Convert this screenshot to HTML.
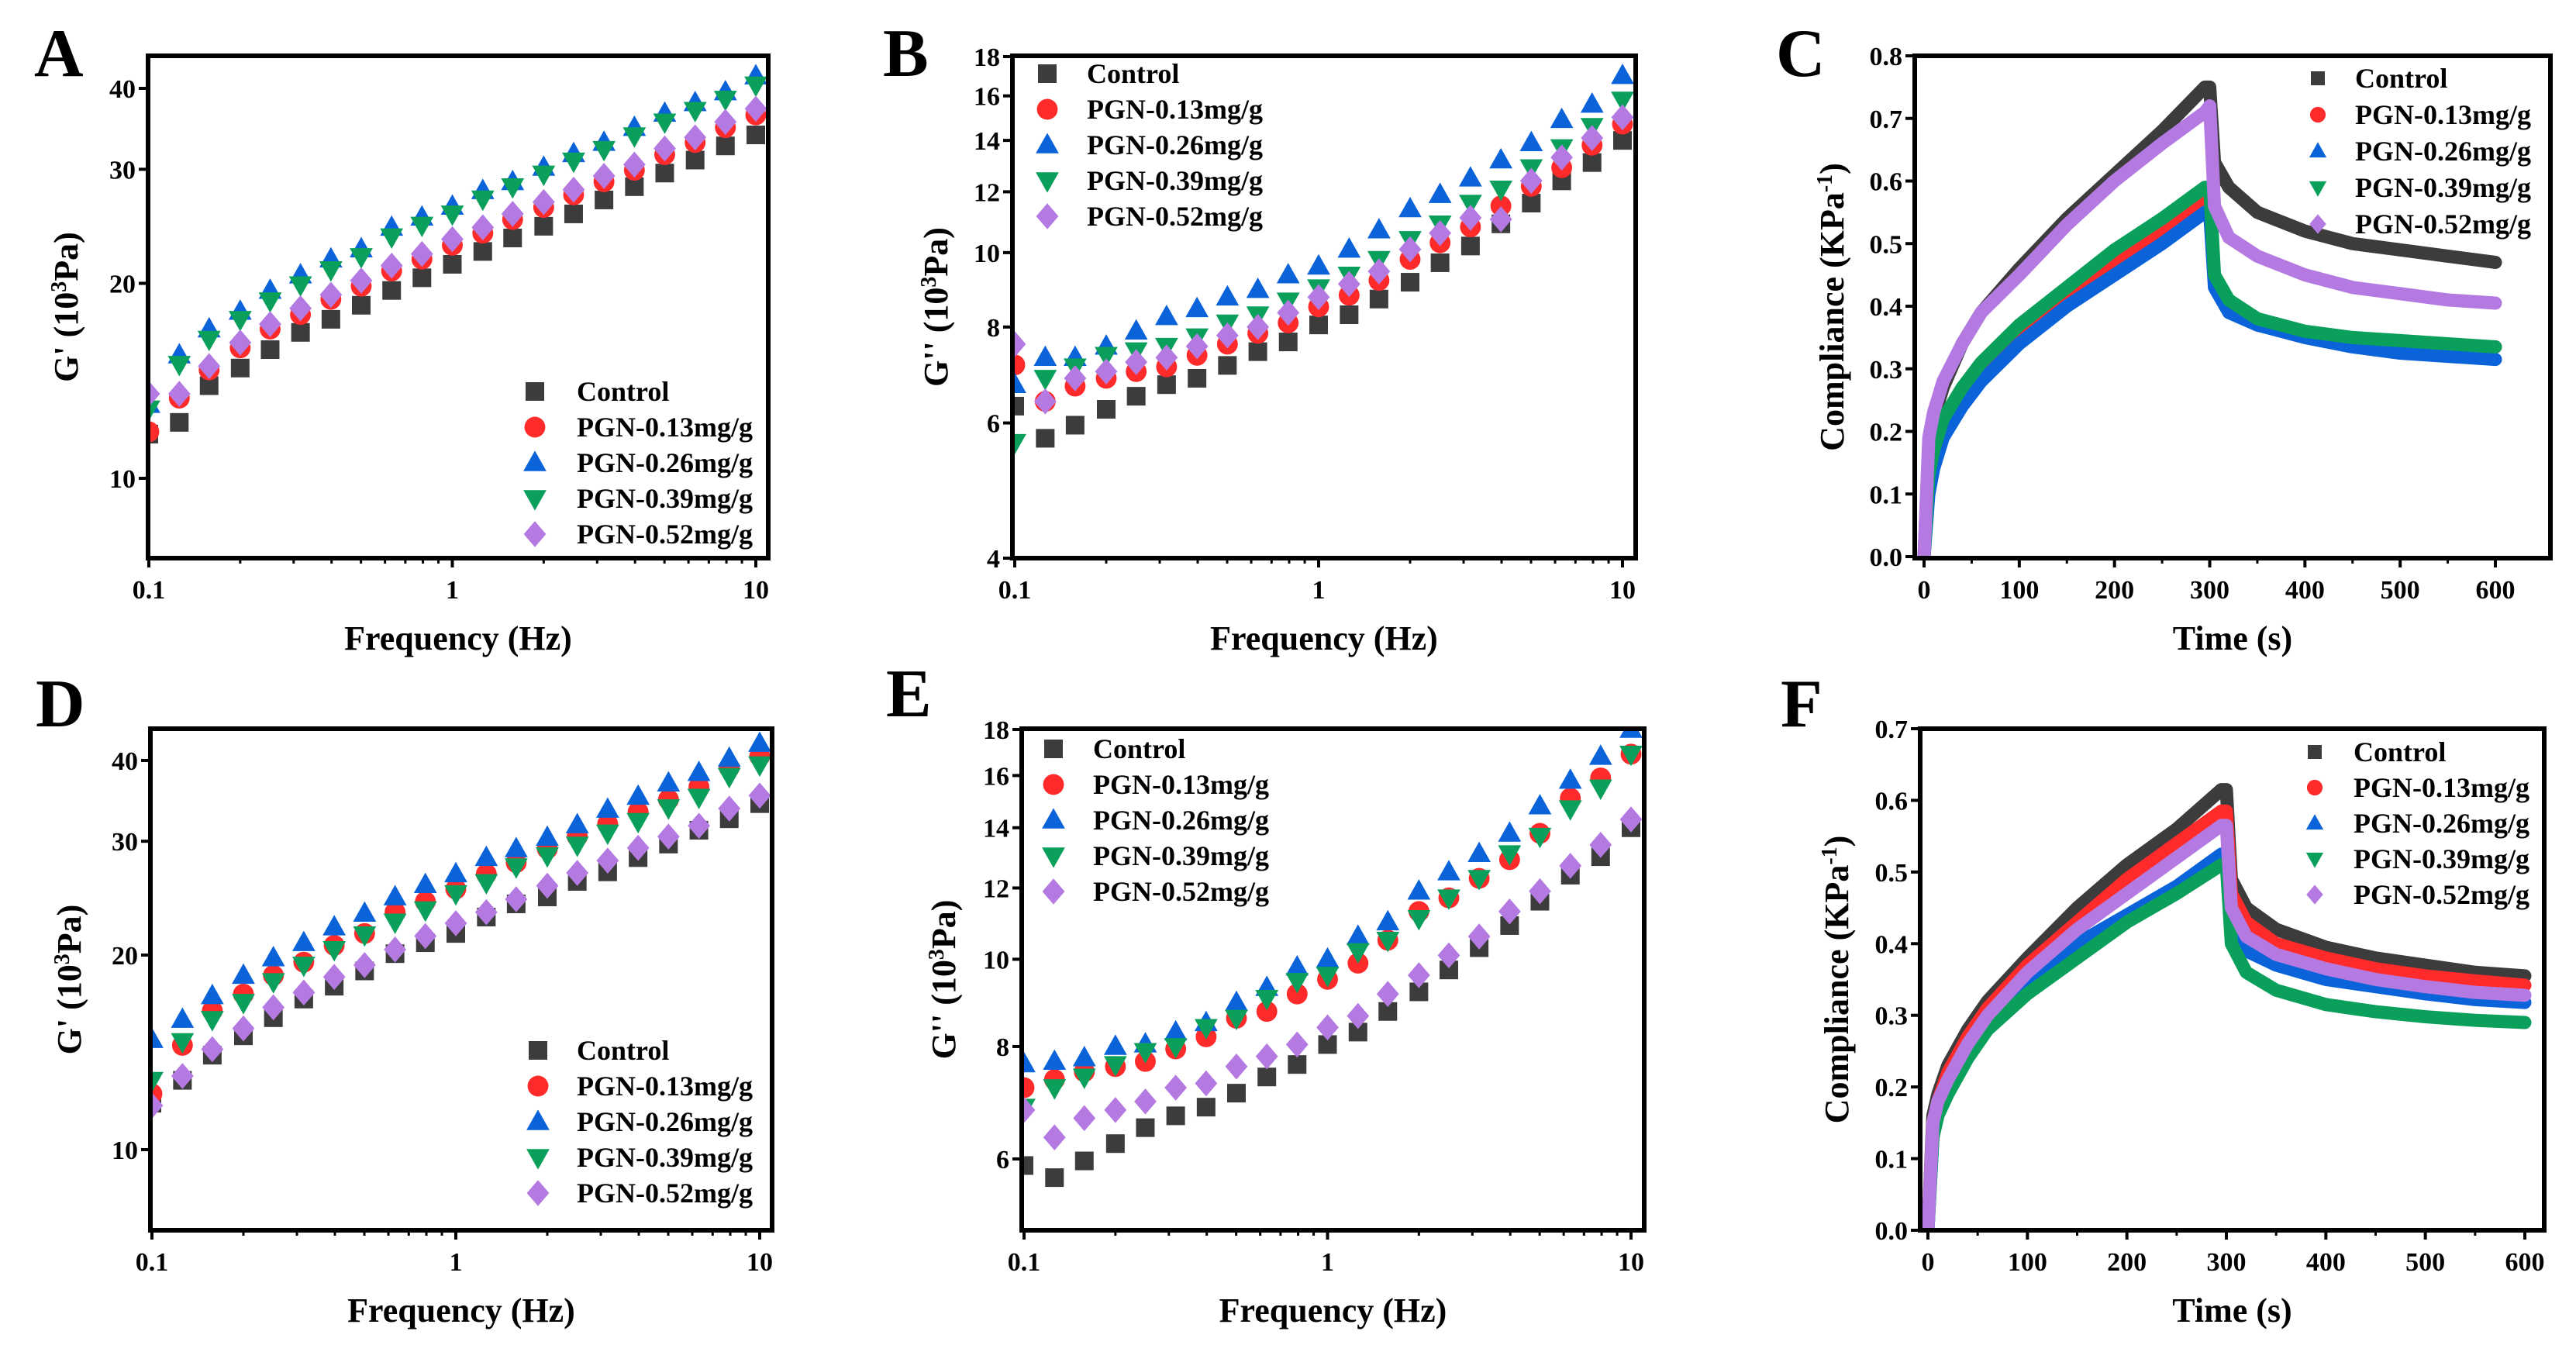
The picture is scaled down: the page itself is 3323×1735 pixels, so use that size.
<!DOCTYPE html>
<html><head><meta charset="utf-8">
<style>
html,body{margin:0;padding:0;background:#fff;}
svg{display:block;font-family:"Liberation Serif",serif;font-weight:bold;}
</style></head>
<body>
<svg id="fig" width="3323" height="1735" viewBox="0 0 3323 1735" xmlns="http://www.w3.org/2000/svg"></svg>
<script>
// ---------- data ----------
const freq = [0.1,0.126,0.158,0.2,0.251,0.316,0.398,0.501,0.631,0.794,1,1.26,1.58,2,2.51,3.16,3.98,5.01,6.31,7.94,10];
const seriesNames = ["Control","PGN-0.13mg/g","PGN-0.26mg/g","PGN-0.39mg/g","PGN-0.52mg/g"];

const aControl = [11.7,12.2,13.9,14.8,15.8,16.8,17.6,18.5,19.5,20.4,21.4,22.4,23.5,24.5,25.6,26.9,28.2,29.6,31.0,32.6,33.9];
const aP013 = [11.8,13.3,14.7,15.9,17.0,17.9,18.9,19.8,20.9,21.8,22.9,23.9,25.1,26.2,27.4,28.7,29.9,31.6,33.0,34.8,36.4];
const aP026 = [13.0,15.5,17.0,18.1,19.5,20.6,21.8,22.6,24.4,25.3,26.3,27.8,28.7,30.2,31.7,33.0,34.8,36.6,38.0,39.5,41.8];
const aP039 = [12.8,15.0,16.4,17.6,18.8,19.9,21.0,22.0,23.6,24.6,25.6,27.0,28.2,29.5,30.9,32.2,33.8,35.5,37.0,38.5,40.5];
const aP052 = [13.5,13.5,14.9,16.2,17.3,18.3,19.2,20.2,21.3,22.2,23.4,24.4,25.6,26.7,27.9,29.3,30.5,32.3,33.6,35.5,37.2];

const bControl = [6.31,5.73,5.96,6.25,6.5,6.73,6.86,7.13,7.43,7.65,8.05,8.3,8.7,9.15,9.7,10.2,10.9,11.6,12.4,13.1,14.0];
const bP013 = [7.14,6.4,6.7,6.86,7.0,7.1,7.35,7.6,7.85,8.1,8.5,8.8,9.2,9.8,10.3,10.8,11.5,12.2,12.9,13.8,14.7];
const bP026 = [6.73,7.3,7.3,7.55,7.9,8.25,8.45,8.75,8.95,9.35,9.6,10.1,10.7,11.4,11.9,12.5,13.2,13.9,14.9,15.6,17.0];
const bP039 = [5.66,6.86,7.1,7.35,7.45,7.55,7.77,8.1,8.3,8.65,9.0,9.35,9.8,10.4,10.9,11.6,12.1,12.9,13.7,14.6,15.8];
const bP052 = [7.6,6.4,6.86,7.0,7.2,7.3,7.55,7.8,8.0,8.35,8.75,9.1,9.45,10.1,10.6,11.1,11.05,12.4,13.3,14.1,15.0];

const dControl = [11.8,12.8,14.0,15.0,16.0,17.1,17.9,18.9,20.1,20.9,21.6,22.9,24.0,24.6,26.0,26.9,28.3,29.7,31.2,32.5,34.3];
const dP013 = [12.2,14.5,16.4,17.4,18.6,19.5,20.7,21.6,23.3,24.2,25.3,26.7,27.8,29.2,30.5,31.9,33.3,34.8,36.4,39.0,40.6];
const dP026 = [14.8,15.9,17.3,18.6,19.8,20.9,22.1,23.2,24.6,25.7,26.7,28.3,29.2,30.4,31.8,33.6,35.2,36.9,38.3,40.3,42.5];
const dP039 = [12.8,14.7,15.9,16.9,18.2,19.3,20.4,21.5,22.5,23.5,24.9,25.9,27.4,28.5,29.6,30.9,32.2,33.8,35.1,37.8,39.4];
const dP052 = [11.7,13.0,14.3,15.4,16.6,17.5,18.5,19.3,20.4,21.4,22.4,23.3,24.4,25.6,26.8,28.0,29.3,30.5,31.7,33.7,35.3];

const eControl = [5.9,5.72,5.97,6.24,6.5,6.7,6.85,7.1,7.4,7.64,8.04,8.3,8.75,9.2,9.73,10.3,10.9,11.6,12.4,13.0,14.0];
const eP013 = [7.2,7.35,7.5,7.6,7.7,7.95,8.2,8.6,8.75,9.15,9.5,9.9,10.5,11.3,11.7,12.3,12.9,13.8,15.1,15.9,16.9];
const eP026 = [7.65,7.7,7.77,8.0,8.05,8.3,8.5,8.95,9.3,9.8,10.0,10.6,11.0,11.9,12.5,13.1,13.8,14.8,15.8,16.8,18.0];
const eP039 = [6.85,7.2,7.4,7.64,7.9,8.0,8.4,8.6,9.05,9.45,9.6,10.2,10.5,11.1,11.7,12.3,13.1,13.7,14.7,15.5,16.9];
const eP052 = [6.8,6.34,6.66,6.8,6.95,7.2,7.28,7.6,7.8,8.04,8.4,8.65,9.15,9.6,10.1,10.6,11.3,11.9,12.7,13.4,14.3];

const creepTime = [0,5,10,20,40,60,100,150,200,250,295,300,305,320,350,400,450,500,550,600];
const cControl = [0,0.18,0.22,0.27,0.34,0.39,0.46,0.54,0.61,0.68,0.75,0.75,0.63,0.59,0.55,0.52,0.50,0.49,0.48,0.47];
const cP013 = [0,0.11,0.15,0.2,0.25,0.29,0.35,0.41,0.47,0.52,0.565,0.565,0.44,0.40,0.37,0.355,0.345,0.34,0.335,0.335];
const cP026 = [0,0.10,0.14,0.19,0.24,0.28,0.34,0.40,0.45,0.50,0.55,0.55,0.43,0.39,0.37,0.35,0.335,0.325,0.32,0.315];
const cP039 = [0,0.13,0.17,0.22,0.27,0.31,0.37,0.43,0.49,0.54,0.59,0.59,0.45,0.41,0.38,0.36,0.35,0.345,0.34,0.335];
const cP052 = [0,0.19,0.23,0.28,0.34,0.39,0.45,0.53,0.60,0.66,0.71,0.72,0.56,0.51,0.48,0.45,0.43,0.42,0.41,0.405];

const fControl = [0,0.16,0.19,0.23,0.28,0.32,0.38,0.45,0.51,0.56,0.615,0.615,0.49,0.45,0.42,0.395,0.38,0.37,0.36,0.355];
const fP013 = [0,0.15,0.18,0.22,0.27,0.31,0.37,0.43,0.49,0.54,0.585,0.585,0.47,0.43,0.40,0.38,0.365,0.355,0.348,0.342];
const fP026 = [0,0.13,0.16,0.20,0.25,0.29,0.35,0.40,0.44,0.48,0.525,0.525,0.43,0.39,0.37,0.35,0.34,0.33,0.322,0.318];
const fP039 = [0,0.13,0.16,0.19,0.24,0.28,0.33,0.38,0.43,0.47,0.51,0.51,0.40,0.36,0.335,0.315,0.305,0.298,0.293,0.29];
const fP052 = [0,0.15,0.18,0.21,0.26,0.30,0.36,0.42,0.47,0.52,0.565,0.565,0.45,0.41,0.385,0.365,0.35,0.34,0.332,0.328];

const ticksA = [10,20,30,40];
const ticksB = [4,6,8,10,12,14,16,18];
const ticksE = [6,8,10,12,14,16,18];
const ticksC = [0,0.1,0.2,0.3,0.4,0.5,0.6,0.7,0.8];
const ticksF = [0,0.1,0.2,0.3,0.4,0.5,0.6,0.7];
const ticksFreq = [0.1,1,10];
const ticksTime = [0,100,200,300,400,500,600];

// ---------- drawing ----------
const NS = "http://www.w3.org/2000/svg";
const svg = document.getElementById("fig");
const colors = ["#3c3c3c","#ff2a2a","#0b63d9","#0aa05c","#b47ae2"];
const shapes = ["square","circle","up","down","diamond"];
function mk(tag, parent){ const e=document.createElementNS(NS,tag); parent.appendChild(e); return e; }
function attrs(e,o){ for(const k in o) e.setAttribute(k,o[k]); return e; }

function marker(g, shape, cx, cy, s, color){
  let e;
  if(shape==="square"){ e=mk("rect",g); attrs(e,{x:cx-s/2,y:cy-s/2,width:s,height:s}); }
  else if(shape==="circle"){ e=mk("circle",g); attrs(e,{cx:cx,cy:cy,r:s*0.56}); }
  else { e=mk("polygon",g); let p;
    if(shape==="up") p=[[cx,cy-s*0.65],[cx+s*0.62,cy+s*0.45],[cx-s*0.62,cy+s*0.45]];
    else if(shape==="down") p=[[cx,cy+s*0.65],[cx+s*0.62,cy-s*0.45],[cx-s*0.62,cy-s*0.45]];
    else p=[[cx,cy-s*0.7],[cx+s*0.6,cy],[cx,cy+s*0.7],[cx-s*0.6,cy]];
    e.setAttribute("points",p.map(q=>q.join(",")).join(" ")); }
  e.setAttribute("fill",color);
  return e;
}

function panel(cfg){
  const g = mk("g",svg);
  
  
  const L=cfg.box[0],R=cfg.box[1],T=cfg.box[2],B=cfg.box[3];
  const xs = cfg.xlog ? v=>cfg.x0+(Math.log10(v)-Math.log10(cfg.xd[0]))/(Math.log10(cfg.xd[1])-Math.log10(cfg.xd[0]))*(cfg.x1-cfg.x0)
                     : v=>cfg.x0+(v-cfg.xd[0])/(cfg.xd[1]-cfg.xd[0])*(cfg.x1-cfg.x0);
  const ys = cfg.ylog ? v=>cfg.y0+(Math.log10(v)-Math.log10(cfg.yd[0]))/(Math.log10(cfg.yd[1])-Math.log10(cfg.yd[0]))*(cfg.y1-cfg.y0)
                     : v=>cfg.y0+(v-cfg.yd[0])/(cfg.yd[1]-cfg.yd[0])*(cfg.y1-cfg.y0);
  // letter
  const lt = mk("text",g); attrs(lt,{x:cfg.lx,y:cfg.ly,"font-size":88}); lt.textContent=cfg.letter;
  
  
  // clip
  const cp = mk("clipPath",g); cp.setAttribute("id","clip"+cfg.letter);
  attrs(mk("rect",cp),{x:L,y:T,width:R-L,height:B-T});
  const data = mk("g",g); data.setAttribute("clip-path","url(#clip"+cfg.letter+")");
  
  
  // series
  cfg.series.forEach((vals,si)=>{
    const sg = mk("g",data);
    
    
    if(cfg.kind==="scatter"){
      vals.forEach((v,i)=>{
        const m = marker(sg, shapes[si], xs(cfg.xv[i]), ys(v), 24, colors[si]);
        
        
      });
    } else {
      const pl = mk("polyline",sg);
      attrs(pl,{points:vals.map((v,i)=>xs(cfg.xv[i])+","+ys(v)).join(" "),fill:"none",stroke:colors[si],"stroke-width":17,"stroke-linejoin":"round","stroke-linecap":"round"});
      
      
    }
  });
  // frame
  const fr = mk("rect",g); attrs(fr,{x:L,y:T,width:R-L,height:B-T,fill:"none",stroke:"#000","stroke-width":6});
  
  
  // x ticks
  cfg.xt.forEach(t=>{
    const x=xs(t);
    const tk=mk("line",g); attrs(tk,{x1:x,x2:x,y1:B,y2:B+12,stroke:"#000","stroke-width":4});
    
    
    const tl=mk("text",g); attrs(tl,{x:x,y:B+52,"font-size":34,"text-anchor":"middle"}); tl.textContent=String(t);
    
    
  });
  // minor x
  const minors=[];
  if(cfg.xlog){ [0.1,1].forEach(d=>{for(let k=2;k<=9;k++) minors.push(d*k);}); }
  else { for(let v=50;v<600;v+=100) minors.push(v); }
  minors.forEach(t=>{ const x=xs(t); const tk=mk("line",g); attrs(tk,{x1:x,x2:x,y1:B,y2:B+7,stroke:"#000","stroke-width":3});
    
     });
  // y ticks
  cfg.yt.forEach(t=>{
    const y=ys(t);
    const tk=mk("line",g); attrs(tk,{x1:L-12,x2:L,y1:y,y2:y,stroke:"#000","stroke-width":4});
    
    
    const tl=mk("text",g); attrs(tl,{x:L-16,y:y+12,"font-size":34,"text-anchor":"end"});
    tl.textContent = cfg.ylog ? String(t) : t.toFixed(1);
    
    
  });
  // axis titles
  const xt = mk("text",g); attrs(xt,{x:(L+R)/2,y:B+118,"font-size":44,"text-anchor":"middle"}); xt.textContent=cfg.xtitle;
  
  
  const yt = mk("text",g); attrs(yt,{x:0,y:0,"font-size":44,"text-anchor":"middle",transform:"translate("+cfg.ytx+","+(T+B)/2+") rotate(-90)"});
  const t1 = mk("tspan",yt); t1.textContent=cfg.ytitle[0];
  const t2 = mk("tspan",yt); attrs(t2,{"baseline-shift":"super","font-size":28}); t2.textContent=cfg.ytitle[1];
  const t3 = mk("tspan",yt); t3.textContent=cfg.ytitle[2];
  
  
  // legend
  const lg = mk("g",g);
  
  
  seriesNames.forEach((n,i)=>{
    const y = cfg.leg[2] + i*cfg.leg[3];
    const m = marker(lg, shapes[i], cfg.leg[0], y, cfg.kind==="scatter"?24:18, colors[i]);
    
    
    const tx = mk("text",lg); attrs(tx,{x:cfg.leg[1],y:y+12,"font-size":36}); tx.textContent=n;
    
    
  });
}

const fx = "Frequency (Hz)", tx = "Time (s)";
panel({letter:"A",lx:44,ly:98,box:[191,991,72,720],kind:"scatter",xlog:true,ylog:true,xd:[0.1,10],x0:192,x1:975,yd:[10,40],y0:617,y1:114,
  xv:freq,series:[aControl,aP013,aP026,aP039,aP052],xt:ticksFreq,yt:ticksA,xtitle:fx,ytitle:["G' (10","3","Pa)"],ytx:100,leg:[690,744,505,46]});
panel({letter:"B",lx:1139,ly:98,box:[1306,2110,72,720],kind:"scatter",xlog:true,ylog:true,xd:[0.1,10],x0:1309,x1:2093,yd:[4,18],y0:720,y1:73,
  xv:freq,series:[bControl,bP013,bP026,bP039,bP052],xt:ticksFreq,yt:ticksB,xtitle:fx,ytitle:["G'' (10","3","Pa)"],ytx:1222,leg:[1351,1402,95,46]});
panel({letter:"C",lx:2291,ly:98,box:[2470,3290,72,720],kind:"line",xlog:false,ylog:false,xd:[0,600],x0:2482,x1:3219,yd:[0,0.8],y0:718,y1:72,
  xv:creepTime,series:[cControl,cP013,cP026,cP039,cP052],xt:ticksTime,yt:ticksC,xtitle:tx,ytitle:["Compliance (KPa","-1",")"],ytx:2378,leg:[2990,3038,101,47]});
panel({letter:"D",lx:46,ly:937,box:[194,996,940,1587],kind:"scatter",xlog:true,ylog:true,xd:[0.1,10],x0:196,x1:980,yd:[10,40],y0:1483,y1:981,
  xv:freq,series:[dControl,dP013,dP026,dP039,dP052],xt:ticksFreq,yt:ticksA,xtitle:fx,ytitle:["G' (10","3","Pa)"],ytx:104,leg:[694,744,1355,46]});
panel({letter:"E",lx:1143,ly:924,box:[1318,2121,940,1587],kind:"scatter",xlog:true,ylog:true,xd:[0.1,10],x0:1321,x1:2104,yd:[6,18],y0:1495,y1:941,
  xv:freq,series:[eControl,eP013,eP026,eP039,eP052],xt:ticksFreq,yt:ticksE,xtitle:fx,ytitle:["G'' (10","3","Pa)"],ytx:1232,leg:[1359,1410,966,46]});
panel({letter:"F",lx:2297,ly:937,box:[2477,3282,940,1587],kind:"line",xlog:false,ylog:false,xd:[0,600],x0:2487,x1:3257,yd:[0,0.7],y0:1587,y1:940,
  xv:creepTime,series:[fControl,fP013,fP026,fP039,fP052],xt:ticksTime,yt:ticksF,xtitle:tx,ytitle:["Compliance (KPa","-1",")"],ytx:2384,leg:[2986,3036,970,46]});
</script>
</body></html>
